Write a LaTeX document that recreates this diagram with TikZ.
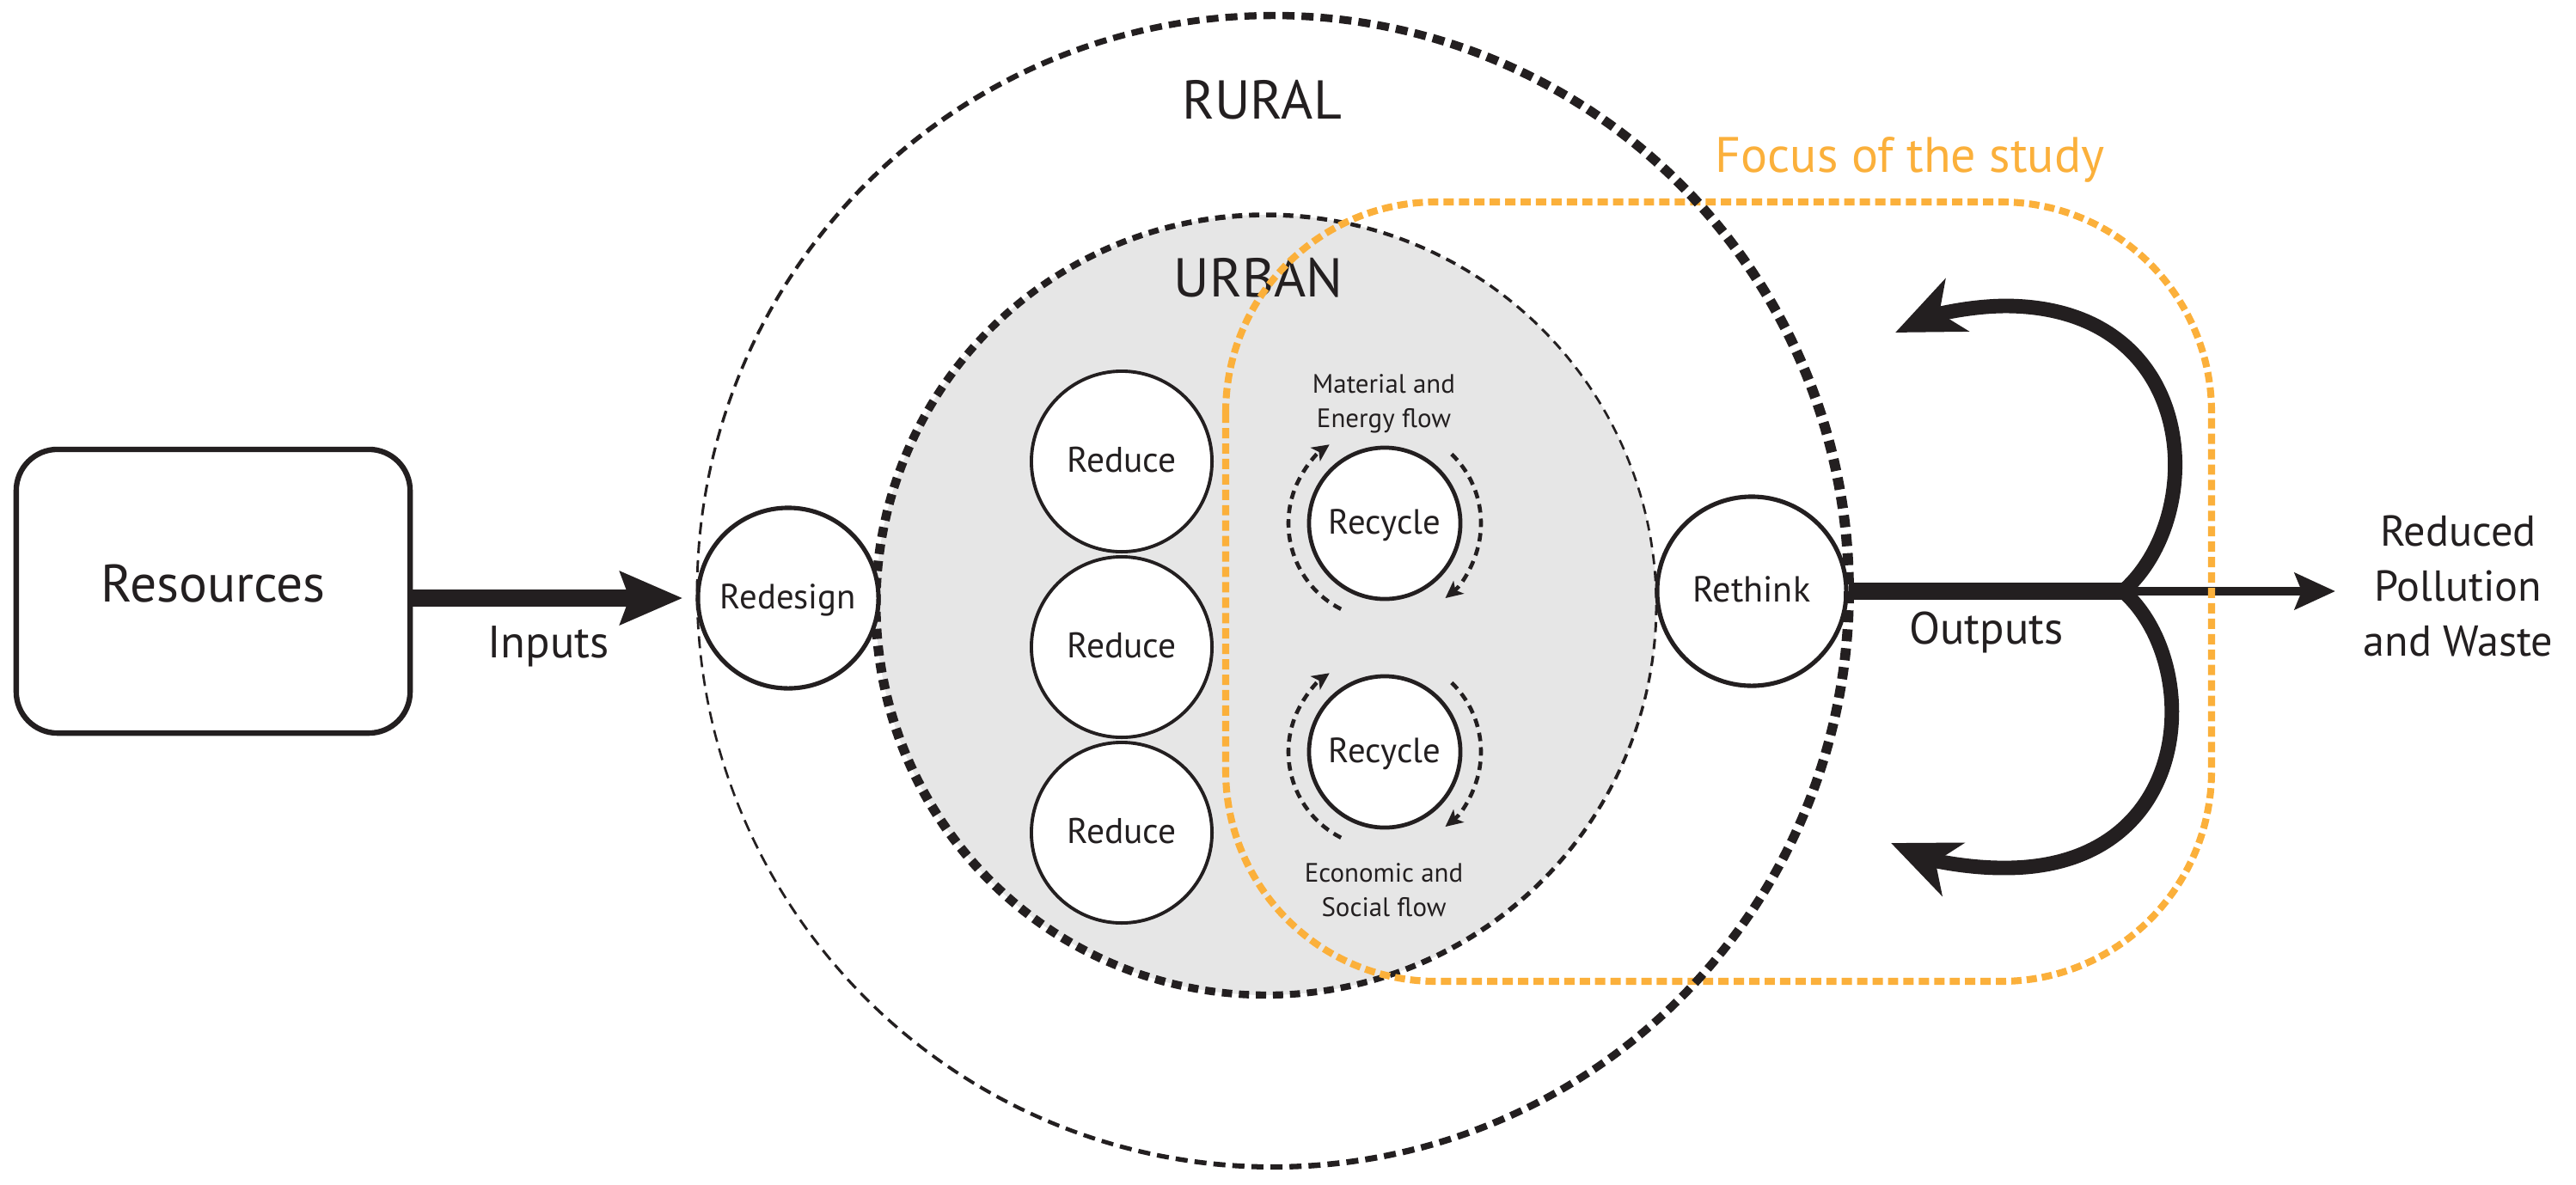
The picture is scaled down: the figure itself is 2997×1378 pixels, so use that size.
\documentclass[tikz,border=0pt]{standalone}
\usepackage{fontspec}
\setmainfont{PT Sans}
\usetikzlibrary{arrows.meta}
\pgfdeclarelayer{background}
\pgfdeclarelayer{foreground}
\pgfsetlayers{background,main,foreground}
\definecolor{ink}{HTML}{231F20}
\definecolor{focuscol}{HTML}{FBB03B}
\definecolor{urbanfill}{HTML}{E6E6E6}
\tikzset{
  ringnode/.style={circle, draw=ink, fill=white, inner sep=0pt, text=ink, text height=0.7em, text depth=0pt},
  redesignring/.style={ringnode, line width=1.45pt, minimum size=2.1cm, font=\fontsize{11.6}{14}\selectfont},
  rethinkring/.style={ringnode, line width=1.45pt, minimum size=2.2cm, font=\fontsize{12}{14}\selectfont},
  reducering/.style={ringnode, line width=1.1pt, minimum size=2.1cm, font=\fontsize{11.8}{14}\selectfont},
  recyclering/.style={ringnode, line width=1.35pt, minimum size=1.76cm, font=\fontsize{11.6}{14}\selectfont},
  txt/.style={text=ink, anchor=base, inner sep=0pt},
  bigtxt/.style={txt, font=\fontsize{18.1}{22}\selectfont},
  iotxt/.style={txt, font=\fontsize{15}{18}\selectfont},
  flowtxt/.style={text=ink, align=center, inner sep=0pt, font=\fontsize{8.8}{11.4}\selectfont},
  resbox/.style={draw=ink, line width=1.8pt, rounded corners=0.48cm, minimum width=4.58cm, minimum height=3.3cm, text=ink, font=\fontsize{17.5}{21}\selectfont, text height=0.7em, text depth=0pt, inner sep=0pt},
  inarrow/.style={ink, line width=5.7pt, -{Stealth[length=0.72cm, width=0.6cm, inset=0.1cm]}},
  outline/.style={ink, line width=5.7pt},
  thinarrow/.style={ink, line width=2.85pt, -{Stealth[length=0.47cm, width=0.42cm, inset=0.08cm]}},
  curvearrow/.style={ink, line width=4.8pt, -{Stealth[length=0.78cm, width=0.66cm, inset=0.22cm]}},
  recflow/.style={ink, line width=1.3pt, dash pattern=on 2.8pt off 2pt, -{Stealth[length=0.2cm, width=0.19cm, inset=0.05cm]}},
  focusline/.style={focuscol, line width=2.3pt, dash pattern=on 3.4pt off 1.7pt, rounded corners=2.45cm}
}
\begin{document}
\begin{tikzpicture}[x=0.01cm, y=-0.01cm]
\useasboundingbox (0,0) rectangle (2997,1378);

% urban area
\begin{pgfonlayer}{background}
\fill[urbanfill] (1473,704) circle[radius=454];
\foreach \i in {0,...,143}{
  \pgfmathsetmacro\a{\i*2.5}
  \pgfmathsetmacro\w{0.75+2.45*(1+cos(\a-160))/2}
  \draw[ink, line width=\w pt] (1473,704) ++(\a:454) arc[start angle=\a, end angle=\a+1.5, radius=454];
}
\end{pgfonlayer}

% nodes
\node[resbox] (res) at (248,688) {Resources};
\node[redesignring] (redesign) at (917,696) {Redesign};
\node[rethinkring] (rethink) at (2038,688) {Rethink};
\node[reducering] (red1) at (1305,537) {Reduce};
\node[reducering] (red2) at (1305,753) {Reduce};
\node[reducering] (red3) at (1305,969) {Reduce};
\node[recyclering] (rc1) at (1611,609) {Recycle};
\node[recyclering] (rc2) at (1611,875) {Recycle};

\node[bigtxt] (rural) at (1468,138) {RURAL};
\node[bigtxt] (urban) at (1464,345) {URBAN};
\node[txt, text=focuscol, font=\fontsize{16.5}{19}\selectfont] (focus) at (2222,200) {Focus of the study};
\node[iotxt] (inputs) at (638,765) {Inputs};
\node[iotxt] (outputs) at (2311,749) {Outputs};
\node[text=ink, align=center, inner sep=0pt, font=\fontsize{14.3}{18.2}\selectfont] (waste) at (2860,682) {Reduced\\Pollution\\and Waste};
\node[flowtxt] (mat) at (1610,470) {Material and\\Energy flow};
\node[flowtxt] (eco) at (1610,1036) {Economic and\\Social flow};

% flows around recycle
\draw[recflow] (rc1) ++(117:112) arc[start angle=117, end angle=235, radius=112];
\draw[recflow] (rc1) ++(-46:112) arc[start angle=-46, end angle=51, radius=112];
\draw[recflow] (rc2) ++(117:112) arc[start angle=117, end angle=235, radius=112];
\draw[recflow] (rc2) ++(-46:112) arc[start angle=-46, end angle=51, radius=112];

% inputs
\draw[inarrow, shorten >=0.15cm] (res.east |- redesign.west) -- (redesign.west);

% outputs
\coordinate (J) at (2470,688);
\coordinate (tipR) at (2717,688);
\draw[outline] (rethink.east) -- (J);
\draw[thinarrow] (J) -- (tipR);
\draw[curvearrow] (J) .. controls (2570,600) and (2560,358) .. (2335,356) .. controls (2290,356) and (2250,367) .. (2205,387);
\draw[curvearrow] (J) .. controls (2565,772) and (2555,1012) .. (2330,1010) .. controls (2285,1010) and (2245,1000) .. (2200,981);

% focus and rural ring
\begin{pgfonlayer}{foreground}
\draw[focusline] (1426,235) rectangle (2573,1142);
\foreach \i in {0,...,189}{
  \pgfmathsetmacro\a{\i*1.8947368}
  \pgfmathsetmacro\w{0.75+2.65*(1+cos(\a+15))/2}
  \draw[ink, line width=\w pt] (1481,688) ++(\a:670) arc[start angle=\a, end angle=\a+1.2, radius=670];
}
\end{pgfonlayer}
\end{tikzpicture}
\end{document}
